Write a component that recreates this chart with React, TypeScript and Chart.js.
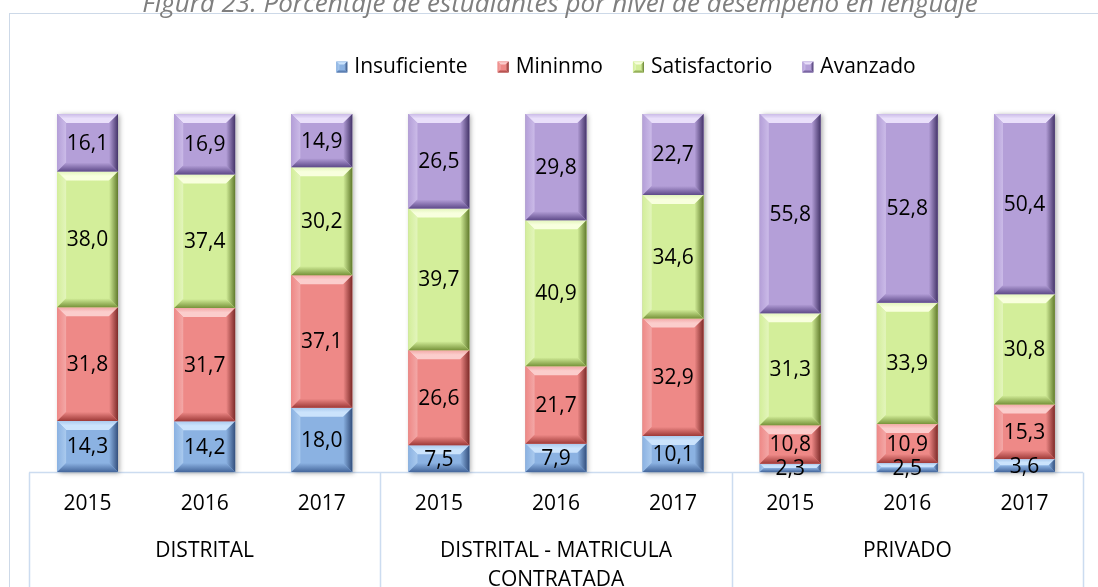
import React, { useEffect, useRef } from "react";
import { Chart, registerables } from "chart.js";

Chart.register(...registerables);

const years = ["2015", "2016", "2017", "2015", "2016", "2017", "2015", "2016", "2017"];
const groupLabels = [["DISTRITAL"], ["DISTRITAL - MATRICULA", "CONTRATADA"], ["PRIVADO"]];
const seriesNames = ["Insuficiente", "Mininmo", "Satisfactorio", "Avanzado"];
const insuficiente = [14.3, 14.2, 18.0, 7.5, 7.9, 10.1, 2.3, 2.5, 3.6];
const minimo = [31.8, 31.7, 37.1, 26.6, 21.7, 32.9, 10.8, 10.9, 15.3];
const satisfactorio = [38.0, 37.4, 30.2, 39.7, 40.9, 34.6, 31.3, 33.9, 30.8];
const avanzado = [16.1, 16.9, 14.9, 26.5, 29.8, 22.7, 55.8, 52.8, 50.4];
const titleText = "Figura 23. Porcentaje de estudiantes por nivel de desempeño en lenguaje";

const palettes = [
  { face: "#8BB2E2", top: "#CBE3FC", left: "#AACAEE", right: "#34507E", bottom: "#45679C" },
  { face: "#EE8987", top: "#FBCDCC", left: "#F3A8A7", right: "#7E2B29", bottom: "#9E3A38" },
  { face: "#D3EE9A", top: "#F8FFDE", left: "#E3F5BC", right: "#617B2C", bottom: "#77933A" },
  { face: "#B49FD8", top: "#E9DFFA", left: "#CBBBE8", right: "#45356A", bottom: "#5E4A89" },
];

const FONT = "'Open Sans', 'Noto Sans', sans-serif";
const FS = 21;

function bevelRect(ctx: CanvasRenderingContext2D, L: number, T: number, R: number, B: number, p: any, maxB: number) {
  const b = Math.max(0, Math.min(maxB, (B - T) / 2, (R - L) / 2));
  ctx.save();
  ctx.fillStyle = p.face;
  ctx.fillRect(L, T, R - L, B - T);
  const poly = (pts: number[][], fill: any) => {
    ctx.beginPath();
    ctx.moveTo(pts[0][0], pts[0][1]);
    for (let i = 1; i < pts.length; i++) ctx.lineTo(pts[i][0], pts[i][1]);
    ctx.closePath();
    ctx.fillStyle = fill;
    ctx.fill();
  };
  let g = ctx.createLinearGradient(0, T, 0, T + b);
  g.addColorStop(0, p.left);
  g.addColorStop(0.5, p.top);
  g.addColorStop(1, p.top);
  poly([[L, T], [R, T], [R - b, T + b], [L + b, T + b]], g);
  g = ctx.createLinearGradient(L, 0, L + b, 0);
  g.addColorStop(0, p.face);
  g.addColorStop(1, p.left);
  poly([[L, T], [L + b, T + b], [L + b, B - b], [L, B]], g);
  g = ctx.createLinearGradient(R - b, 0, R, 0);
  g.addColorStop(0, p.face);
  g.addColorStop(1, p.right);
  poly([[R, T], [R - b, T + b], [R - b, B - b], [R, B]], g);
  g = ctx.createLinearGradient(0, B - b, 0, B);
  g.addColorStop(0, p.face);
  g.addColorStop(1, p.bottom);
  poly([[L, B], [R, B], [R - b, B - b], [L + b, B - b]], g);
  ctx.restore();
}

const decorPlugin = {
  id: "decor",
  beforeDraw(chart: any) {
    const ctx = chart.ctx;
    ctx.save();
    ctx.fillStyle = "#ffffff";
    ctx.fillRect(0, 0, chart.width, chart.height);
    ctx.strokeStyle = "#CDD9E8";
    ctx.lineWidth = 1;
    ctx.strokeRect(9.5, 13.5, chart.width + 20, chart.height + 20);
    ctx.fillStyle = "#7F7F7F";
    ctx.font = `italic 26px ${FONT}`;
    ctx.textAlign = "center";
    ctx.textBaseline = "alphabetic";
    ctx.fillText(titleText, 560, 12);
    ctx.font = `${FS}px ${FONT}`;
    ctx.textBaseline = "middle";
    ctx.textAlign = "left";
    const box = 11, gapBox = 7, gapItem = 30;
    let total = 0;
    const widths = seriesNames.map((n) => ctx.measureText(n).width);
    widths.forEach((w, i) => { total += box + gapBox + w + (i < widths.length - 1 ? gapItem : 0); });
    let x = 626 - total / 2;
    const ly = 67;
    seriesNames.forEach((n, i) => {
      bevelRect(ctx, x, ly - box / 2, x + box, ly + box / 2, palettes[i], 3);
      ctx.fillStyle = "#000000";
      ctx.fillText(n, x + box + gapBox, ly);
      x += box + gapBox + widths[i] + gapItem;
    });
    ctx.restore();
  },
  beforeDatasetsDraw(chart: any) {
    const ctx = chart.ctx;
    const xs = chart.scales.x;
    const area = chart.chartArea;
    ctx.save();
    ctx.strokeStyle = "#CCDCF0";
    ctx.lineWidth = 1.5;
    const yTop = area.bottom + 0.5;
    ctx.beginPath();
    ctx.moveTo(area.left, yTop);
    ctx.lineTo(area.right, yTop);
    const seps = [area.left, (xs.getPixelForValue(2) + xs.getPixelForValue(3)) / 2, (xs.getPixelForValue(5) + xs.getPixelForValue(6)) / 2, area.right];
    seps.forEach((sx) => {
      ctx.moveTo(Math.round(sx) + 0.5, yTop);
      ctx.lineTo(Math.round(sx) + 0.5, chart.height + 5);
    });
    ctx.stroke();
    ctx.fillStyle = "#000000";
    ctx.font = `${FS}px ${FONT}`;
    ctx.textAlign = "center";
    ctx.textBaseline = "middle";
    years.forEach((y, i) => {
      ctx.fillText(y, xs.getPixelForValue(i), 504);
    });
    groupLabels.forEach((lines, gi) => {
      const cx = xs.getPixelForValue(gi * 3 + 1);
      lines.forEach((ln, li) => ctx.fillText(ln, cx, 551 + li * 29));
    });
    const meta0 = chart.getDatasetMeta(0);
    const metaLast = chart.getDatasetMeta(chart.data.datasets.length - 1);
    meta0.data.forEach((el: any, i: number) => {
      const top = metaLast.data[i].y;
      const bot = el.base;
      const w = el.width;
      ctx.save();
      ctx.shadowColor = "rgba(0,0,0,0.35)";
      ctx.shadowBlur = 5;
      ctx.shadowOffsetX = 2;
      ctx.shadowOffsetY = 1;
      ctx.fillStyle = "#888";
      ctx.fillRect(el.x - w / 2, top, w, bot - top);
      ctx.restore();
    });
    ctx.restore();
  },
  afterDatasetsDraw(chart: any) {
    const ctx = chart.ctx;
    ctx.save();
    chart.data.datasets.forEach((ds: any, di: number) => {
      const meta = chart.getDatasetMeta(di);
      meta.data.forEach((el: any) => {
        const L = el.x - el.width / 2;
        const R = el.x + el.width / 2;
        const T = Math.min(el.y, el.base);
        const B = Math.max(el.y, el.base);
        bevelRect(ctx, L, T, R, B, palettes[di], 9);
      });
    });
    ctx.fillStyle = "#000000";
    ctx.font = `${FS}px ${FONT}`;
    ctx.textAlign = "center";
    ctx.textBaseline = "middle";
    chart.data.datasets.forEach((ds: any, di: number) => {
      const meta = chart.getDatasetMeta(di);
      meta.data.forEach((el: any, i: number) => {
        const v = ds.raw[i];
        const cy = (el.y + el.base) / 2;
        ctx.fillText(v.toFixed(1).replace(".", ","), el.x, cy + 1);
      });
    });
    ctx.restore();
  },
};

export default function App() {
  const ref = useRef<HTMLCanvasElement>(null);
  useEffect(() => {
    if (!ref.current) return;
    const series = [insuficiente, minimo, satisfactorio, avanzado];
    const totals = years.map((_, i) => series.reduce((s, arr) => s + arr[i], 0));
    const chart = new Chart(ref.current, {
      type: "bar",
      data: {
        labels: years,
        datasets: series.map((arr, di) => ({
          label: seriesNames[di],
          data: arr.map((v, i) => (v / totals[i]) * 100),
          raw: arr,
          backgroundColor: palettes[di].face,
          borderWidth: 0,
          barPercentage: 0.52,
          categoryPercentage: 1,
        })) as any,
      },
      options: {
        responsive: false,
        animation: false,
        devicePixelRatio: 1,
        layout: { padding: { left: 29, right: 15, top: 114, bottom: 115 } },
        plugins: { legend: { display: false }, tooltip: { enabled: false }, title: { display: false } },
        scales: {
          x: { stacked: true, display: false, offset: true, grid: { display: false } },
          y: { stacked: true, display: false, min: 0, max: 100 },
        },
      },
      plugins: [decorPlugin],
    });
    return () => chart.destroy();
  }, []);
  return (
    <div style={{ position: "absolute", left: 0, top: 0, width: 1098, height: 587, background: "#fff" }}>
      <canvas ref={ref} width={1098} height={587} style={{ display: "block" }} />
    </div>
  );
}
